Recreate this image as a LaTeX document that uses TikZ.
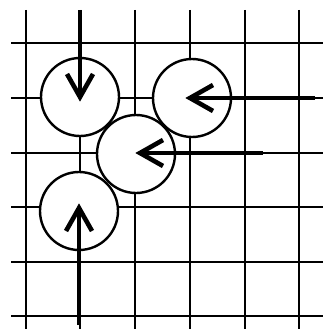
\documentclass[tikz,border=0pt]{standalone}
\usetikzlibrary{calc}
\begin{document}
\begin{tikzpicture}[x=1pt,y=-1pt,
  gridline/.style={line width=1.6pt,black},
  disc/.style={circle,draw=black,fill=white,line width=2.4pt,minimum size=78pt,inner sep=0pt},
  pushshaft/.style={line width=4.6pt},
  pushhead/.style={line width=4.6pt,line join=miter,miter limit=10}]
\useasboundingbox (0,0) rectangle (323,329);
\foreach \x in {26,80,135,190,245,299} \draw[gridline] (\x,10) -- (\x,329);
\foreach \y in {43,98,153,207,262,316} \draw[gridline] (11,\y) -- (323,\y);
\node[disc] (c1) at (80,97) {};
\node[disc] (c2) at (192,98) {};
\node[disc] (c3) at (136,154) {};
\node[disc] (c4) at (79,211) {};
\coordinate (s1) at (80,10);
\coordinate (t1) at (80,97);
\coordinate (s2) at (315,98);
\coordinate (t2) at (190,98);
\coordinate (s3) at (263,153);
\coordinate (t3) at (140,153);
\coordinate (s4) at (79,325);
\coordinate (t4) at (79,208);
\draw[pushshaft] (s1) -- (t1);
\draw[pushhead] ($(t1)+(-13,-23)$) -- (t1) -- ($(t1)+(13,-23)$);
\draw[pushshaft] (s2) -- (t2);
\draw[pushhead] ($(t2)+(23,-13)$) -- (t2) -- ($(t2)+(23,13)$);
\draw[pushshaft] (s3) -- (t3);
\draw[pushhead] ($(t3)+(23,-13)$) -- (t3) -- ($(t3)+(23,13)$);
\draw[pushshaft] (s4) -- (t4);
\draw[pushhead] ($(t4)+(-13,23)$) -- (t4) -- ($(t4)+(13,23)$);
\end{tikzpicture}
\end{document}
